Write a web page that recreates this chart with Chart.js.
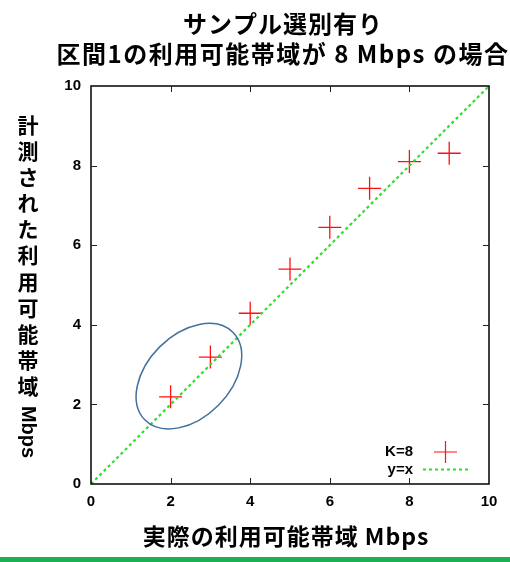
<!DOCTYPE html>
<html><head><meta charset="utf-8">
<script src="https://cdn.jsdelivr.net/npm/chart.js@4"></script>
<style>html,body{margin:0;padding:0;background:#fff}#wrap{width:510px;height:562px}</style>
</head><body><div id="wrap"><canvas id="c" width="510" height="562"></canvas></div>
<script>
const titleLines = ['サンプル選別有り', '区間1の利用可能帯域が 8 Mbps の場合'];
const xAxisTitle = '実際の利用可能帯域 Mbps';
const yAxisTitleChars = ['計','測','さ','れ','た','利','用','可','能','帯','域'];
const yAxisTitleLatin = 'Mbps';
const actualBw = [2, 3, 4, 5, 6, 7, 8, 9];
const measuredBw = [2.19, 3.19, 4.29, 5.40, 6.45, 7.43, 8.10, 8.31];
const refX = [0, 10];
const refY = [0, 10];
const axisTicks = [0, 2, 4, 6, 8, 10];
const seriesLabels = ['K=8', 'y=x'];
const ellipseCenter = [2.46, 2.71];
const ellipseRadii = [1.56, 1.04];

const CJK = '"Noto Sans CJK JP", "Noto Sans", sans-serif';
const LAT = '"Liberation Sans", Arial, sans-serif';
const RED = '#ff1010';
const GREEN = '#22e622';

function setSpacing(ctx, v) { try { ctx.letterSpacing = v; } catch (e) {} }

const decor = {
  id: 'decor',
  beforeDraw(chart) {
    const ctx = chart.ctx;
    ctx.save();
    ctx.fillStyle = '#fff';
    ctx.fillRect(0, 0, chart.width, chart.height);
    ctx.restore();
  },
  afterDatasetsDraw(chart) {
    const { ctx, chartArea: a, scales: { x, y } } = chart;
    ctx.save();
    // ellipse annotation
    const cx = x.getPixelForValue(ellipseCenter[0]);
    const cy = y.getPixelForValue(ellipseCenter[1]);
    const rx = x.getPixelForValue(ellipseCenter[0] + ellipseRadii[0]) - cx;
    const ry = cy - y.getPixelForValue(ellipseCenter[1] + ellipseRadii[1]);
    ctx.beginPath();
    ctx.ellipse(cx, cy, rx, ry, -Math.PI / 4, 0, Math.PI * 2);
    ctx.strokeStyle = '#41719c';
    ctx.lineWidth = 1.5;
    ctx.stroke();
    // frame
    ctx.strokeStyle = '#111';
    ctx.lineWidth = 1.6;
    ctx.strokeRect(a.left, a.top, a.right - a.left, a.bottom - a.top);
    // inward ticks on all sides
    ctx.lineWidth = 1;
    ctx.strokeStyle = '#222';
    ctx.beginPath();
    axisTicks.forEach(v => {
      if (v === axisTicks[0] || v === axisTicks[axisTicks.length - 1]) return;
      const px = Math.round(x.getPixelForValue(v)) + 0.5;
      ctx.moveTo(px, a.bottom); ctx.lineTo(px, a.bottom - 6);
      ctx.moveTo(px, a.top); ctx.lineTo(px, a.top + 6);
      const py = Math.round(y.getPixelForValue(v)) + 0.5;
      ctx.moveTo(a.left, py); ctx.lineTo(a.left + 6, py);
      ctx.moveTo(a.right, py); ctx.lineTo(a.right - 6, py);
    });
    ctx.stroke();
    // legend
    ctx.fillStyle = '#000';
    ctx.font = 'bold 15px ' + LAT;
    ctx.textAlign = 'right';
    ctx.textBaseline = 'middle';
    ctx.fillText(seriesLabels[0], 413, 452);
    ctx.fillText(seriesLabels[1], 413, 470);
    ctx.strokeStyle = RED;
    ctx.lineWidth = 1.2;
    ctx.beginPath();
    ctx.moveTo(434, 452); ctx.lineTo(457, 452);
    ctx.moveTo(445.5, 441); ctx.lineTo(445.5, 463);
    ctx.stroke();
    ctx.strokeStyle = GREEN;
    ctx.lineWidth = 2;
    ctx.setLineDash([3, 3]);
    ctx.beginPath();
    ctx.moveTo(423, 469.5); ctx.lineTo(470, 469.5);
    ctx.stroke();
    ctx.setLineDash([]);
    ctx.restore();
  },
  afterDraw(chart) {
    const ctx = chart.ctx;
    ctx.save();
    ctx.fillStyle = '#000';
    ctx.textAlign = 'center';
    ctx.textBaseline = 'middle';
    // titles
    ctx.font = 'bold 24px ' + CJK;
    setSpacing(ctx, '1px');
    ctx.fillText(titleLines[0], 283, 24);
    setSpacing(ctx, '1.5px');
    ctx.fillText(titleLines[1], 283, 54);
    // x axis title
    ctx.font = 'bold 23px ' + CJK;
    setSpacing(ctx, '1px');
    ctx.fillText(xAxisTitle, 286, 536);
    setSpacing(ctx, '0px');
    // y axis title (vertical)
    ctx.font = 'bold 21px ' + CJK;
    yAxisTitleChars.forEach((ch, i) => ctx.fillText(ch, 28, 125 + i * 26.1));
    ctx.translate(28, 432);
    ctx.rotate(Math.PI / 2);
    ctx.font = 'bold 20px ' + LAT;
    ctx.fillText(yAxisTitleLatin, 0, 0);
    ctx.restore();
    // bottom green bar
    ctx.save();
    ctx.fillStyle = '#1cb050';
    ctx.fillRect(0, 557, chart.width, 5);
    ctx.restore();
  }
};

new Chart(document.getElementById('c'), {
  type: 'scatter',
  data: {
    datasets: [
      {
        label: seriesLabels[1],
        data: refX.map((v, i) => ({ x: v, y: refY[i] })),
        showLine: true,
        borderColor: GREEN,
        borderWidth: 2.2,
        borderDash: [3, 3],
        pointRadius: 0,
        fill: false,
        order: 0
      },
      {
        label: seriesLabels[0],
        data: actualBw.map((v, i) => ({ x: v, y: measuredBw[i] })),
        showLine: false,
        pointStyle: 'cross',
        pointRadius: 11.5,
        pointBorderColor: RED,
        pointBackgroundColor: RED,
        pointBorderWidth: 1.3,
        order: 1
      }
    ]
  },
  options: {
    responsive: false,
    animation: false,
    devicePixelRatio: 1,
    layout: { padding: { top: 86, right: 21, left: 0, bottom: 0 } },
    plugins: { legend: { display: false }, title: { display: false }, tooltip: { enabled: false } },
    scales: {
      x: {
        type: 'linear', min: 0, max: 10,
        afterFit(s) { s.height = 78; },
        grid: { display: false, drawTicks: false },
        border: { display: false },
        ticks: { stepSize: 2, padding: 9, color: '#000', font: { family: LAT, size: 15, weight: 'bold' } }
      },
      y: {
        type: 'linear', min: 0, max: 10,
        afterFit(s) { s.width = 91; },
        grid: { display: false, drawTicks: false },
        border: { display: false },
        ticks: { stepSize: 2, padding: 10, color: '#000', font: { family: LAT, size: 15, weight: 'bold' } }
      }
    }
  },
  plugins: [decor]
});
</script>
</body></html>
